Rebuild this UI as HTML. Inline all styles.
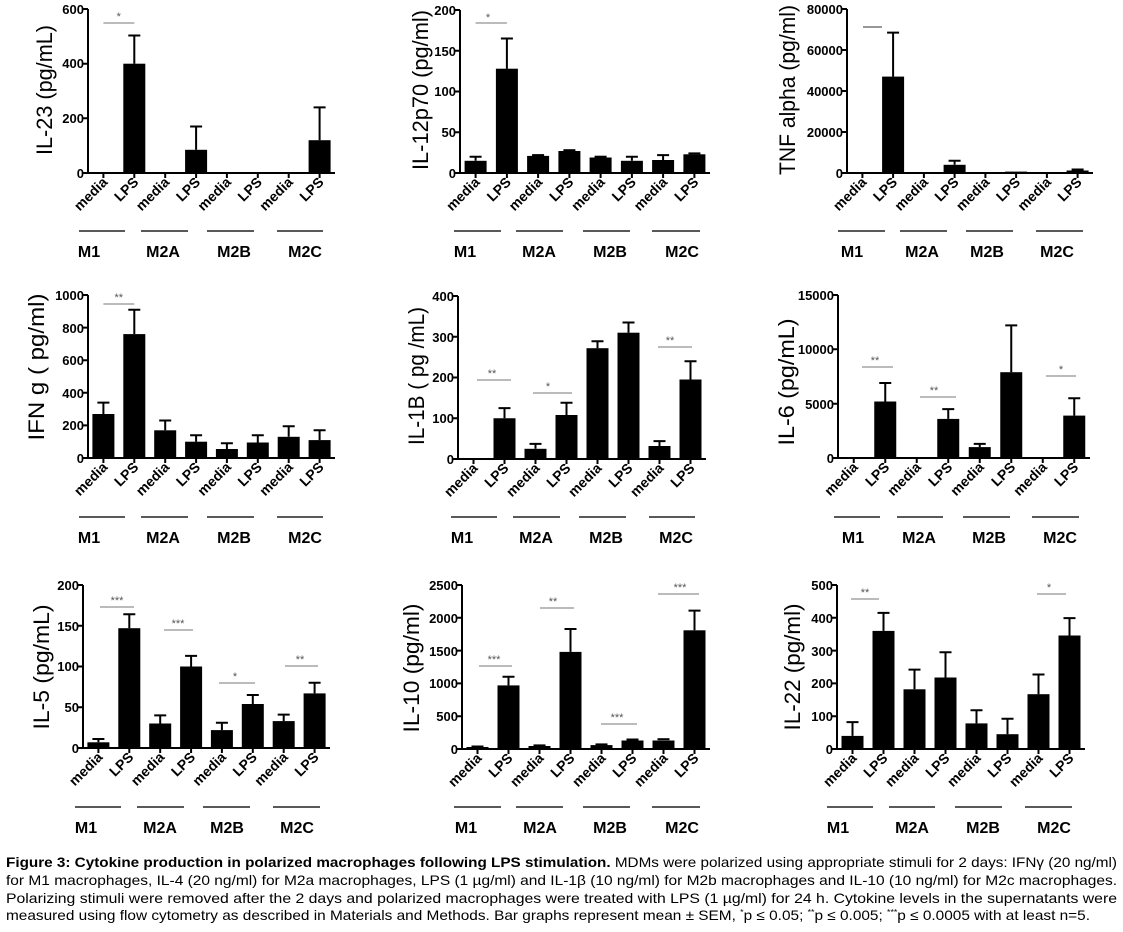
<!DOCTYPE html>
<html><head><meta charset="utf-8"><style>
html,body{margin:0;padding:0;background:#fff}
svg{display:block}
text{font-family:"Liberation Sans",Arial,sans-serif}
.yt{font-size:13px;font-weight:bold;text-anchor:end}
.xl{font-size:14px;font-weight:bold;text-anchor:end}
.gl{font-size:16px;font-weight:bold;text-anchor:middle}
.ti{font-size:22px;text-anchor:middle}
.st{font-size:11px;fill:#555;text-anchor:middle}
.ax{stroke:#000;stroke-width:2;fill:none}
.eb{stroke:#000;stroke-width:2}
.sg{stroke:#777;stroke-width:1}
.gr{stroke:#222;stroke-width:1.6}
.cap{font-family:"Liberation Sans Narrow","Liberation Sans",Arial,sans-serif;font-size:14px}
</style></head><body>
<svg width="1123" height="932" viewBox="0 0 1123 932" xmlns="http://www.w3.org/2000/svg">

<!-- P1 IL-23 -->
<g>
<path class="ax" d="M88,9V173H335M83,9H88M83,118.3H88M83,63.7H88M83,173H88M103.4,173v5M134.3,173v5M165.2,173v5M196.1,173v5M226.9,173v5M257.8,173v5M288.7,173v5M319.6,173v5"/>
<text class="yt" x="84" y="14">600</text><text class="yt" x="84" y="68">400</text><text class="yt" x="84" y="123">200</text><text class="yt" x="84" y="178">0</text>
<rect x="123.3" y="63.7" width="22" height="109.3"/><path class="eb" d="M134.3,63.7V35.5M128.3,35.5H140.3"/>
<rect x="185.1" y="149.8" width="22" height="23.2"/><path class="eb" d="M196.1,149.8V126.5M190.1,126.5H202.1"/>
<rect x="308.6" y="140.2" width="22" height="32.8"/><path class="eb" d="M319.6,140.2V107.4M313.6,107.4H325.6"/>
<path class="sg" d="M103.4,23H134.3"/><text class="st" x="118.8" y="20">*</text>
<text class="ti" transform="translate(52,90) rotate(-90)" textLength="130" lengthAdjust="spacingAndGlyphs">IL-23  (pg/mL)</text>
</g>
<g>
<text class="xl" transform="translate(108.4,183) rotate(-45)">media</text><text class="xl" transform="translate(139.3,183) rotate(-45)">LPS</text>
<text class="xl" transform="translate(170.2,183) rotate(-45)">media</text><text class="xl" transform="translate(201.1,183) rotate(-45)">LPS</text>
<text class="xl" transform="translate(231.9,183) rotate(-45)">media</text><text class="xl" transform="translate(262.8,183) rotate(-45)">LPS</text>
<text class="xl" transform="translate(293.7,183) rotate(-45)">media</text><text class="xl" transform="translate(324.6,183) rotate(-45)">LPS</text>
<path class="gr" d="M79,231H125M141,231H188M207,231H254M277,231H323"/>
<text class="gl" x="89" y="257">M1</text><text class="gl" x="163" y="257">M2A</text><text class="gl" x="234" y="257">M2B</text><text class="gl" x="305" y="257">M2C</text>
</g>

<!-- P2 IL-12p70 -->
<g>
<path class="ax" d="M460,10V173H710M455,10H460M455,50.75H460M455,91.5H460M455,132.25H460M455,173H460M475.6,173v5M506.9,173v5M538.1,173v5M569.4,173v5M600.6,173v5M631.9,173v5M663.1,173v5M694.4,173v5"/>
<text class="yt" x="456" y="15">200</text><text class="yt" x="456" y="56">150</text><text class="yt" x="456" y="96">100</text><text class="yt" x="456" y="137">50</text><text class="yt" x="456" y="178">0</text>
<rect x="464.6" y="160.8" width="22" height="12.2"/><path class="eb" d="M475.6,160.8V156.7M469.6,156.7H481.6"/>
<rect x="495.9" y="68.7" width="22" height="104.3"/><path class="eb" d="M506.9,68.7V38.5M500.9,38.5H512.9"/>
<rect x="527.1" y="155.9" width="22" height="17.1"/><path class="eb" d="M532.1,155.1H544.1"/>
<rect x="558.4" y="151" width="22" height="22"/><path class="eb" d="M563.4,150.2H575.4"/>
<rect x="589.6" y="157.5" width="22" height="15.5"/><path class="eb" d="M594.6,156.7H606.6"/>
<rect x="620.9" y="160.8" width="22" height="12.2"/><path class="eb" d="M631.9,160.8V156.7M625.9,156.7H637.9"/>
<rect x="652.1" y="160" width="22" height="13"/><path class="eb" d="M663.1,160V155.1M657.1,155.1H669.1"/>
<rect x="683.4" y="154.3" width="22" height="18.7"/><path class="eb" d="M688.4,153.4H700.4"/>
<path class="sg" d="M475.6,23H506.9"/><text class="st" x="488" y="21">*</text>
<text class="ti" transform="translate(428,90) rotate(-90)" textLength="160" lengthAdjust="spacingAndGlyphs">IL-12p70 (pg/ml)</text>
<text class="xl" transform="translate(480.6,183) rotate(-45)">media</text><text class="xl" transform="translate(511.9,183) rotate(-45)">LPS</text>
<text class="xl" transform="translate(543.1,183) rotate(-45)">media</text><text class="xl" transform="translate(574.4,183) rotate(-45)">LPS</text>
<text class="xl" transform="translate(605.6,183) rotate(-45)">media</text><text class="xl" transform="translate(636.9,183) rotate(-45)">LPS</text>
<text class="xl" transform="translate(668.1,183) rotate(-45)">media</text><text class="xl" transform="translate(699.4,183) rotate(-45)">LPS</text>
<path class="gr" d="M454,231H501M516,231H563M583,231H630M652,231H700"/>
<text class="gl" x="465" y="257">M1</text><text class="gl" x="539" y="257">M2A</text><text class="gl" x="610" y="257">M2B</text><text class="gl" x="682" y="257">M2C</text>
</g>

<!-- P3 TNF alpha -->
<g>
<path class="ax" d="M847,9V173H1093M842,9H847M842,50H847M842,91H847M842,132H847M842,173H847M862.4,173v5M893.1,173v5M923.9,173v5M954.6,173v5M985.4,173v5M1016.1,173v5M1046.9,173v5M1077.6,173v5"/>
<text class="yt" x="843" y="14">80000</text><text class="yt" x="843" y="55">60000</text><text class="yt" x="843" y="96">40000</text><text class="yt" x="843" y="137">20000</text><text class="yt" x="843" y="178">0</text>
<rect x="882.1" y="76.6" width="22" height="96.4"/><path class="eb" d="M893.1,76.6V32.6M887.1,32.6H899.1"/>
<rect x="943.6" y="164.8" width="22" height="8.2"/><path class="eb" d="M954.6,164.8V160.7M948.6,160.7H960.6"/>
<rect x="1005.1" y="171.6" width="22" height="1.4"/>
<rect x="1066.6" y="170.5" width="22" height="2.5"/><path class="eb" d="M1071.6,169.5H1083.6"/>
<path class="sg" d="M863,27H882" style="stroke-width:1.5"/>
<text class="ti" transform="translate(795,90) rotate(-90)" textLength="170" lengthAdjust="spacingAndGlyphs">TNF alpha (pg/ml)</text>
<text class="xl" transform="translate(867.4,183) rotate(-45)">media</text><text class="xl" transform="translate(898.1,183) rotate(-45)">LPS</text>
<text class="xl" transform="translate(928.9,183) rotate(-45)">media</text><text class="xl" transform="translate(959.6,183) rotate(-45)">LPS</text>
<text class="xl" transform="translate(990.4,183) rotate(-45)">media</text><text class="xl" transform="translate(1021.1,183) rotate(-45)">LPS</text>
<text class="xl" transform="translate(1051.9,183) rotate(-45)">media</text><text class="xl" transform="translate(1082.6,183) rotate(-45)">LPS</text>
<path class="gr" d="M838,231H885M900,231H947M966,231H1013M1036,231H1083"/>
<text class="gl" x="852" y="257">M1</text><text class="gl" x="922" y="257">M2A</text><text class="gl" x="987" y="257">M2B</text><text class="gl" x="1057" y="257">M2C</text>
</g>

<!-- P4 IFN g -->
<g>
<path class="ax" d="M88,295V458H335M83,295H88M83,327.6H88M83,360.2H88M83,392.8H88M83,425.4H88M83,458H88M103.4,458v5M134.3,458v5M165.2,458v5M196.1,458v5M226.9,458v5M257.8,458v5M288.7,458v5M319.6,458v5"/>
<text class="yt" x="84" y="300">1000</text><text class="yt" x="84" y="333">800</text><text class="yt" x="84" y="365">600</text><text class="yt" x="84" y="398">400</text><text class="yt" x="84" y="430">200</text><text class="yt" x="84" y="463">0</text>
<rect x="92.4" y="414" width="22" height="44"/><path class="eb" d="M103.4,414V402.6M97.4,402.6H109.4"/>
<rect x="123.3" y="334.1" width="22" height="123.9"/><path class="eb" d="M134.3,334.1V309.7M128.3,309.7H140.3"/>
<rect x="154.2" y="430.3" width="22" height="27.7"/><path class="eb" d="M165.2,430.3V420.5M159.2,420.5H171.2"/>
<rect x="185.1" y="441.7" width="22" height="16.3"/><path class="eb" d="M196.1,441.7V435.2M190.1,435.2H202.1"/>
<rect x="215.9" y="449" width="22" height="9"/><path class="eb" d="M226.9,449V443.3M220.9,443.3H232.9"/>
<rect x="246.8" y="442.5" width="22" height="15.5"/><path class="eb" d="M257.8,442.5V435.2M251.8,435.2H263.8"/>
<rect x="277.7" y="436.8" width="22" height="21.2"/><path class="eb" d="M288.7,436.8V426.2M282.7,426.2H294.7"/>
<rect x="308.6" y="440.1" width="22" height="17.9"/><path class="eb" d="M319.6,440.1V430.3M313.6,430.3H325.6"/>
<path class="sg" d="M103.4,304H134.3"/><text class="st" x="118.8" y="301">**</text>
<text class="ti" transform="translate(44,367) rotate(-90)" textLength="147" lengthAdjust="spacingAndGlyphs">IFN g ( pg/ml)</text>
<text class="xl" transform="translate(108.4,468) rotate(-45)">media</text><text class="xl" transform="translate(139.3,468) rotate(-45)">LPS</text>
<text class="xl" transform="translate(170.2,468) rotate(-45)">media</text><text class="xl" transform="translate(201.1,468) rotate(-45)">LPS</text>
<text class="xl" transform="translate(231.9,468) rotate(-45)">media</text><text class="xl" transform="translate(262.8,468) rotate(-45)">LPS</text>
<text class="xl" transform="translate(293.7,468) rotate(-45)">media</text><text class="xl" transform="translate(324.6,468) rotate(-45)">LPS</text>
<path class="gr" d="M79,517H125M141,517H188M207,517H254M277,517H323"/>
<text class="gl" x="89" y="543">M1</text><text class="gl" x="163" y="543">M2A</text><text class="gl" x="234" y="543">M2B</text><text class="gl" x="305" y="543">M2C</text>
</g>

<!-- P5 IL-1B -->
<g>
<path class="ax" d="M458,296V459H706M453,296H458M453,336.75H458M453,377.5H458M453,418.25H458M453,459H458M473.5,459v5M504.5,459v5M535.5,459v5M566.5,459v5M597.5,459v5M628.5,459v5M659.5,459v5M690.5,459v5"/>
<text class="yt" x="454" y="301">400</text><text class="yt" x="454" y="342">300</text><text class="yt" x="454" y="382">200</text><text class="yt" x="454" y="423">100</text><text class="yt" x="454" y="464">0</text>
<rect x="493.5" y="418.25" width="22" height="40.75"/><path class="eb" d="M504.5,418.25V408.1M498.5,408.1H510.5"/>
<rect x="524.5" y="448.8" width="22" height="10.2"/><path class="eb" d="M535.5,448.8V443.9M529.5,443.9H541.5"/>
<rect x="555.5" y="415" width="22" height="44"/><path class="eb" d="M566.5,415V402.8M560.5,402.8H572.5"/>
<rect x="586.5" y="348.2" width="22" height="110.8"/><path class="eb" d="M597.5,348.2V341.2M591.5,341.2H603.5"/>
<rect x="617.5" y="332.7" width="22" height="126.3"/><path class="eb" d="M628.5,332.7V322.5M622.5,322.5H634.5"/>
<rect x="648.5" y="446" width="22" height="13"/><path class="eb" d="M659.5,446V441.1M653.5,441.1H665.5"/>
<rect x="679.5" y="379.5" width="22" height="79.5"/><path class="eb" d="M690.5,379.5V361.2M684.5,361.2H696.5"/>
<path class="sg" d="M477,380H511M533,393H572M658,347H692"/>
<text class="st" x="492" y="377">**</text><text class="st" x="548" y="390">*</text><text class="st" x="670" y="344">**</text>
<text class="ti" transform="translate(424,376) rotate(-90)" textLength="138" lengthAdjust="spacingAndGlyphs">IL-1B ( pg /mL)</text>
<text class="xl" transform="translate(478.5,469) rotate(-45)">media</text><text class="xl" transform="translate(509.5,469) rotate(-45)">LPS</text>
<text class="xl" transform="translate(540.5,469) rotate(-45)">media</text><text class="xl" transform="translate(571.5,469) rotate(-45)">LPS</text>
<text class="xl" transform="translate(602.5,469) rotate(-45)">media</text><text class="xl" transform="translate(633.5,469) rotate(-45)">LPS</text>
<text class="xl" transform="translate(664.5,469) rotate(-45)">media</text><text class="xl" transform="translate(695.5,469) rotate(-45)">LPS</text>
<path class="gr" d="M451,517H497M513,517H560M579,517H626M649,517H695"/>
<text class="gl" x="462" y="543">M1</text><text class="gl" x="536" y="543">M2A</text><text class="gl" x="606" y="543">M2B</text><text class="gl" x="676" y="543">M2C</text>
</g>

<!-- P6 IL-6 -->
<g>
<path class="ax" d="M838,295V458H1090M833,295H838M833,349.3H838M833,403.7H838M833,458H838M853.75,458v5M885.25,458v5M916.75,458v5M948.25,458v5M979.75,458v5M1011.25,458v5M1042.75,458v5M1074.25,458v5"/>
<text class="yt" x="834" y="300">15000</text><text class="yt" x="834" y="354">10000</text><text class="yt" x="834" y="409">5000</text><text class="yt" x="834" y="463">0</text>
<rect x="874.25" y="401.5" width="22" height="56.5"/><path class="eb" d="M885.25,401.5V383M879.25,383H891.25"/>
<rect x="937.25" y="418.9" width="22" height="39.1"/><path class="eb" d="M948.25,418.9V409.1M942.25,409.1H954.25"/>
<rect x="968.75" y="447.1" width="22" height="10.9"/><path class="eb" d="M979.75,447.1V443.9M973.75,443.9H985.75"/>
<rect x="1000.25" y="372.2" width="22" height="85.8"/><path class="eb" d="M1011.25,372.2V325.4M1005.25,325.4H1017.25"/>
<rect x="1063.25" y="415.6" width="22" height="42.4"/><path class="eb" d="M1074.25,415.6V398.2M1068.25,398.2H1080.25"/>
<path class="sg" d="M862,367H893M920,397H956M1046,376H1076"/>
<text class="st" x="875" y="364">**</text><text class="st" x="934" y="394">**</text><text class="st" x="1061" y="373">*</text>
<text class="ti" transform="translate(794,382) rotate(-90)" textLength="127" lengthAdjust="spacingAndGlyphs">IL-6 (pg/mL)</text>
<text class="xl" transform="translate(858.75,468) rotate(-45)">media</text><text class="xl" transform="translate(890.25,468) rotate(-45)">LPS</text>
<text class="xl" transform="translate(921.75,468) rotate(-45)">media</text><text class="xl" transform="translate(953.25,468) rotate(-45)">LPS</text>
<text class="xl" transform="translate(984.75,468) rotate(-45)">media</text><text class="xl" transform="translate(1016.25,468) rotate(-45)">LPS</text>
<text class="xl" transform="translate(1047.75,468) rotate(-45)">media</text><text class="xl" transform="translate(1079.25,468) rotate(-45)">LPS</text>
<path class="gr" d="M834,517H880M897,517H943M963,517H1010M1032,517H1079"/>
<text class="gl" x="853" y="543">M1</text><text class="gl" x="919" y="543">M2A</text><text class="gl" x="989" y="543">M2B</text><text class="gl" x="1060" y="543">M2C</text>
</g>

<!-- P7 IL-5 -->
<g>
<path class="ax" d="M83,585V748H330M78,585H83M78,625.75H83M78,666.5H83M78,707.25H83M78,748H83M98.4,748v5M129.3,748v5M160.2,748v5M191.1,748v5M221.9,748v5M252.8,748v5M283.7,748v5M314.6,748v5"/>
<text class="yt" x="79" y="590">200</text><text class="yt" x="79" y="631">150</text><text class="yt" x="79" y="671">100</text><text class="yt" x="79" y="712">50</text><text class="yt" x="79" y="753">0</text>
<rect x="87.4" y="742.3" width="22" height="5.7"/><path class="eb" d="M98.4,742.3V739M92.4,739H104.4"/>
<rect x="118.3" y="628.2" width="22" height="119.8"/><path class="eb" d="M129.3,628.2V614.3M123.3,614.3H135.3"/>
<rect x="149.2" y="723.5" width="22" height="24.5"/><path class="eb" d="M160.2,723.5V715.4M154.2,715.4H166.2"/>
<rect x="180.1" y="666.5" width="22" height="81.5"/><path class="eb" d="M191.1,666.5V655.9M185.1,655.9H197.1"/>
<rect x="210.9" y="730.1" width="22" height="17.9"/><path class="eb" d="M221.9,730.1V722.7M215.9,722.7H227.9"/>
<rect x="241.8" y="704" width="22" height="44"/><path class="eb" d="M252.8,704V695M246.8,695H258.8"/>
<rect x="272.7" y="721.1" width="22" height="26.9"/><path class="eb" d="M283.7,721.1V714.6M277.7,714.6H289.7"/>
<rect x="303.6" y="693.4" width="22" height="54.6"/><path class="eb" d="M314.6,693.4V682.8M308.6,682.8H320.6"/>
<path class="sg" d="M100,607H134M164,630H193M219,683H255M285,666H318"/>
<text class="st" x="117" y="604">***</text><text class="st" x="178" y="627">***</text><text class="st" x="235" y="680">*</text><text class="st" x="300" y="663">**</text>
<text class="ti" transform="translate(49,667) rotate(-90)" textLength="125" lengthAdjust="spacingAndGlyphs">IL-5 (pg/mL)</text>
<text class="xl" transform="translate(103.4,758) rotate(-45)">media</text><text class="xl" transform="translate(134.3,758) rotate(-45)">LPS</text>
<text class="xl" transform="translate(165.2,758) rotate(-45)">media</text><text class="xl" transform="translate(196.1,758) rotate(-45)">LPS</text>
<text class="xl" transform="translate(226.9,758) rotate(-45)">media</text><text class="xl" transform="translate(257.8,758) rotate(-45)">LPS</text>
<text class="xl" transform="translate(288.7,758) rotate(-45)">media</text><text class="xl" transform="translate(319.6,758) rotate(-45)">LPS</text>
<path class="gr" d="M75,807H121M137,807H184M203,807H250M273,807H320"/>
<text class="gl" x="86" y="833">M1</text><text class="gl" x="160" y="833">M2A</text><text class="gl" x="227" y="833">M2B</text><text class="gl" x="297" y="833">M2C</text>
</g>

<!-- P8 IL-10 -->
<g>
<path class="ax" d="M462,585V749H710M457,585H462M457,617.8H462M457,650.6H462M457,683.4H462M457,716.2H462M457,749H462M477.5,749v5M508.5,749v5M539.5,749v5M570.5,749v5M601.5,749v5M632.5,749v5M663.5,749v5M694.5,749v5"/>
<text class="yt" x="458" y="590">2500</text><text class="yt" x="458" y="623">2000</text><text class="yt" x="458" y="656">1500</text><text class="yt" x="458" y="688">1000</text><text class="yt" x="458" y="721">500</text><text class="yt" x="458" y="754">0</text>
<rect x="466.5" y="747" width="22" height="2"/><path class="eb" d="M471.5,746.5H483.5"/>
<rect x="497.5" y="685.4" width="22" height="63.6"/><path class="eb" d="M508.5,685.4V676.8M502.5,676.8H514.5"/>
<rect x="528.5" y="746" width="22" height="3"/><path class="eb" d="M533.5,745.4H545.5"/>
<rect x="559.5" y="651.9" width="22" height="97.1"/><path class="eb" d="M570.5,651.9V629M564.5,629H576.5"/>
<rect x="590.5" y="745.1" width="22" height="3.9"/><path class="eb" d="M595.5,744.4H607.5"/>
<rect x="621.5" y="740.5" width="22" height="8.5"/><path class="eb" d="M626.5,739.5H638.5"/>
<rect x="652.5" y="740.5" width="22" height="8.5"/><path class="eb" d="M657.5,739.2H669.5"/>
<rect x="683.5" y="630.3" width="22" height="118.7"/><path class="eb" d="M694.5,630.3V610.6M688.5,610.6H700.5"/>
<path class="sg" d="M479,666H512M540,608H574M601,724H637M658,594H699"/>
<text class="st" x="494" y="663">***</text><text class="st" x="553" y="605">**</text><text class="st" x="617" y="721">***</text><text class="st" x="680" y="591">***</text>
<text class="ti" transform="translate(419,668) rotate(-90)" textLength="129" lengthAdjust="spacingAndGlyphs">IL-10 (pg/ml)</text>
<text class="xl" transform="translate(482.5,759) rotate(-45)">media</text><text class="xl" transform="translate(513.5,759) rotate(-45)">LPS</text>
<text class="xl" transform="translate(544.5,759) rotate(-45)">media</text><text class="xl" transform="translate(575.5,759) rotate(-45)">LPS</text>
<text class="xl" transform="translate(606.5,759) rotate(-45)">media</text><text class="xl" transform="translate(637.5,759) rotate(-45)">LPS</text>
<text class="xl" transform="translate(668.5,759) rotate(-45)">media</text><text class="xl" transform="translate(699.5,759) rotate(-45)">LPS</text>
<path class="gr" d="M454,807H501M516,807H563M583,807H630M652,807H700"/>
<text class="gl" x="466" y="833">M1</text><text class="gl" x="540" y="833">M2A</text><text class="gl" x="610" y="833">M2B</text><text class="gl" x="682" y="833">M2C</text>
</g>

<!-- P9 IL-22 -->
<g>
<path class="ax" d="M837,585V749H1085M832,585H837M832,617.8H837M832,650.6H837M832,683.4H837M832,716.2H837M832,749H837M852.5,749v5M883.5,749v5M914.5,749v5M945.5,749v5M976.5,749v5M1007.5,749v5M1038.5,749v5M1069.5,749v5"/>
<text class="yt" x="833" y="590">500</text><text class="yt" x="833" y="623">400</text><text class="yt" x="833" y="656">300</text><text class="yt" x="833" y="688">200</text><text class="yt" x="833" y="721">100</text><text class="yt" x="833" y="754">0</text>
<rect x="841.5" y="735.9" width="22" height="13.1"/><path class="eb" d="M852.5,735.9V722.1M846.5,722.1H858.5"/>
<rect x="872.5" y="630.9" width="22" height="118.1"/><path class="eb" d="M883.5,630.9V612.9M877.5,612.9H889.5"/>
<rect x="903.5" y="689.3" width="22" height="59.7"/><path class="eb" d="M914.5,689.3V669.6M908.5,669.6H920.5"/>
<rect x="934.5" y="677.5" width="22" height="71.5"/><path class="eb" d="M945.5,677.5V652.2M939.5,652.2H951.5"/>
<rect x="965.5" y="723.4" width="22" height="25.6"/><path class="eb" d="M976.5,723.4V710.3M970.5,710.3H982.5"/>
<rect x="996.5" y="734.2" width="22" height="14.8"/><path class="eb" d="M1007.5,734.2V718.8M1001.5,718.8H1013.5"/>
<rect x="1027.5" y="694.2" width="22" height="54.8"/><path class="eb" d="M1038.5,694.2V674.5M1032.5,674.5H1044.5"/>
<rect x="1058.5" y="635.5" width="22" height="113.5"/><path class="eb" d="M1069.5,635.5V618.1M1063.5,618.1H1075.5"/>
<path class="sg" d="M851,599H879M1037,594H1066"/>
<text class="st" x="865" y="596">**</text><text class="st" x="1049" y="591">*</text>
<text class="ti" transform="translate(800,667) rotate(-90)" textLength="127" lengthAdjust="spacingAndGlyphs">IL-22 (pg/ml)</text>
<text class="xl" transform="translate(857.5,759) rotate(-45)">media</text><text class="xl" transform="translate(888.5,759) rotate(-45)">LPS</text>
<text class="xl" transform="translate(919.5,759) rotate(-45)">media</text><text class="xl" transform="translate(950.5,759) rotate(-45)">LPS</text>
<text class="xl" transform="translate(981.5,759) rotate(-45)">media</text><text class="xl" transform="translate(1012.5,759) rotate(-45)">LPS</text>
<text class="xl" transform="translate(1043.5,759) rotate(-45)">media</text><text class="xl" transform="translate(1074.5,759) rotate(-45)">LPS</text>
<path class="gr" d="M827,807H873M889,807H935M955,807H1002M1025,807H1072"/>
<text class="gl" x="838" y="833">M1</text><text class="gl" x="912" y="833">M2A</text><text class="gl" x="983" y="833">M2B</text><text class="gl" x="1054" y="833">M2C</text>
</g>

<!-- caption -->
<text class="cap" x="6" y="867" textLength="1111" lengthAdjust="spacingAndGlyphs"><tspan font-weight="bold">Figure 3: Cytokine production in polarized macrophages following LPS stimulation.</tspan> MDMs were polarized using appropriate stimuli for 2 days: IFNγ (20 ng/ml)</text>
<text class="cap" x="6" y="885" textLength="1111" lengthAdjust="spacingAndGlyphs">for M1 macrophages, IL-4 (20 ng/ml) for M2a macrophages, LPS (1 µg/ml) and IL-1β (10 ng/ml) for M2b macrophages and IL-10 (10 ng/ml) for M2c macrophages.</text>
<text class="cap" x="6" y="903" textLength="1111" lengthAdjust="spacingAndGlyphs">Polarizing stimuli were removed after the 2 days and polarized macrophages were treated with LPS (1 µg/ml) for 24 h. Cytokine levels in the supernatants were</text>
<text class="cap" x="6" y="920" textLength="1084" lengthAdjust="spacingAndGlyphs">measured using flow cytometry as described in Materials and Methods. Bar graphs represent mean ± SEM, <tspan font-size="8" dy="-5">*</tspan><tspan dy="5">p ≤ 0.05; </tspan><tspan font-size="8" dy="-5">**</tspan><tspan dy="5">p ≤ 0.005; </tspan><tspan font-size="8" dy="-5">***</tspan><tspan dy="5">p ≤ 0.0005 with at least n=5.</tspan></text>
</svg>
</body></html>
